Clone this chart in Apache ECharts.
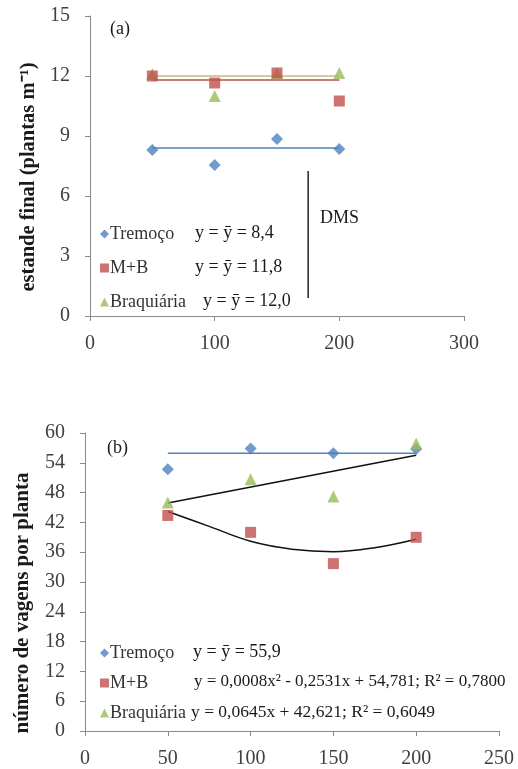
<!DOCTYPE html>
<html>
<head>
<meta charset="utf-8">
<script src="https://cdn.jsdelivr.net/npm/echarts@6/dist/echarts.min.js"></script>
<style>
html,body{margin:0;padding:0;background:#fff;}
#chart{width:518px;height:769px;}
</style>
</head>
<body>
<div id="chart"></div>
<script>
// doses (x) shared by both panels
var doses = [50, 100, 150, 200];

// (a) estande final
var standTremoco = [8.3, 7.55, 8.85, 8.35];
var standMB = [12.0, 11.65, 12.15, 10.75];
var standBraq = [12.1, 11.0, 12.15, 12.15];
var standFitX = [50, 200];
var standFitTremoco = [8.4, 8.4];
var standFitMB = [11.8, 11.8];
var standFitBraq = [12.0, 12.0];
var dmsX = [175, 175];
var dmsY = [0.9, 7.25];

// (b) numero de vagens
var podsTremoco = [52.7, 56.9, 55.9, 56.8];
var podsMB = [43.4, 40.0, 33.7, 39.0];
var podsBraq = [46.0, 50.7, 47.2, 57.9];
var podsFitX = [50, 200];
var podsFitTremoco = [55.9, 55.9];
var podsFitBraq = [45.9, 55.5];
var podsCurveX = [50, 75, 100, 125, 150, 175, 200];
var podsCurveMB = [44.2, 41.2, 38.2, 36.6, 36.1, 36.9, 38.6];

var names = ['Tremoço', 'M+B', 'Braquiária'];
var eqA = ['y = ȳ = 8,4', 'y = ȳ = 11,8', 'y = ȳ = 12,0'];
var eqB = ['y = ȳ = 55,9', 'y = 0,0008x² - 0,2531x + 54,781; R² = 0,7800', 'y = 0,0645x + 42,621; R² = 0,6049'];

var FONT = '"Liberation Serif", "Times New Roman", serif';
var BLUE = '#4F81BD', RED = '#C0504D', GREEN = '#9BBB59';

function zip(xs, ys){
    var out = [];
    for (var i = 0; i < xs.length; i++){
        out.push([xs[i], ys[i]]);
    }
    return out;
}

function axisX(grid, max, interval, margin){
    return {
        type: 'value', gridIndex: grid, min: 0, max: max, interval: interval,
        axisLine: {lineStyle: {color: '#8a8a8a', width: 1}},
        axisTick: {show: true, length: 5, lineStyle: {color: '#8a8a8a'}},
        axisLabel: {color: '#404040', fontFamily: FONT, fontSize: 20, margin: margin},
        splitLine: {show: false}
    };
}
function axisY(grid, max, interval){
    return {
        type: 'value', gridIndex: grid, min: 0, max: max, interval: interval,
        axisLine: {show: true, lineStyle: {color: '#8a8a8a', width: 1}},
        axisTick: {show: true, length: 5, lineStyle: {color: '#8a8a8a'}},
        axisLabel: {color: '#404040', fontFamily: FONT, fontSize: 20, margin: 20},
        splitLine: {show: false}
    };
}
function scatter(name, idx, data, symbol, color, size){
    return {
        name: name, type: 'scatter', xAxisIndex: idx, yAxisIndex: idx,
        symbol: symbol, symbolSize: size, data: data,
        itemStyle: {color: color}, z: 3
    };
}
function fit(idx, data, color, width, smooth){
    return {
        type: 'line', xAxisIndex: idx, yAxisIndex: idx, data: data,
        showSymbol: false, symbol: 'none', silent: true, smooth: smooth || false,
        lineStyle: {color: color, width: width}, z: 2
    };
}
function legend(top, gap){
    return {
        orient: 'vertical', left: 95, top: top, itemGap: gap,
        itemWidth: 9, itemHeight: 9,
        textStyle: {fontFamily: FONT, fontSize: 18, color: '#333', lineHeight: 18, padding: [0, 0, 0, -4]},
        data: [
            {name: 'Tremoço', icon: 'diamond'},
            {name: 'M+B', icon: 'rect'},
            {name: 'Braquiária', icon: 'triangle'}
        ]
    };
}
function txt(x, y, text, size, bold, rot){
    return {
        type: 'text', x: x, y: y, rotation: rot || 0,
        style: {
            text: text, fill: '#1a1a1a',
            font: (bold ? 'bold ' : '') + size + 'px ' + FONT,
            align: rot ? 'center' : 'left', verticalAlign: 'middle'
        }
    };
}

var chart = echarts.init(document.getElementById('chart'));
var option = {
    backgroundColor: '#fff',
    animation: false,
    grid: [
        {left: 90, top: 16, width: 374, height: 300},
        {left: 85, top: 433, width: 414, height: 300}
    ],
    xAxis: [axisX(0, 300, 100, 18), axisX(1, 250, 50, 18)],
    yAxis: [axisY(0, 15, 3), axisY(1, 60, 6)],
    legend: [legend(220, 16), legend(639, 12)],
    series: [
        fit(0, zip(standFitX, standFitTremoco), BLUE, 1.5),
        fit(0, zip(standFitX, standFitMB), '#A8584A', 1.5),
        fit(0, zip(standFitX, standFitBraq), '#D6B27E', 1.5),
        fit(0, zip(dmsX, dmsY), '#222', 1.5),
        scatter('Tremoço', 0, zip(doses, standTremoco), 'diamond', BLUE, 12),
        scatter('Braquiária', 0, zip(doses, standBraq), 'triangle', GREEN, 12),
        scatter('M+B', 0, zip(doses, standMB), 'rect', RED, 11),

        fit(1, zip(podsFitX, podsFitTremoco), BLUE, 1.5),
        fit(1, zip(podsFitX, podsFitBraq), '#111', 1.5),
        fit(1, zip(podsCurveX, podsCurveMB), '#111', 1.5, 0.4),
        scatter('Tremoço', 1, zip(doses, podsTremoco), 'diamond', BLUE, 12),
        scatter('M+B', 1, zip(doses, podsMB), 'rect', RED, 11),
        scatter('Braquiária', 1, zip(doses, podsBraq), 'triangle', GREEN, 12)
    ],
    graphic: [
        txt(110, 29, '(a)', 18),
        txt(107, 448, '(b)', 18),
        txt(320, 218, 'DMS', 18),
        txt(29, 177, 'estande final (plantas m⁻¹)', 20.5, true, Math.PI / 2),
        txt(23, 603, 'número de vagens por planta', 21, true, Math.PI / 2),
        txt(195, 233, eqA[0], 18),
        txt(195, 267, eqA[1], 18),
        txt(203, 301, eqA[2], 18),
        txt(193, 652, eqB[0], 18),
        txt(194, 682, eqB[1], 17),
        txt(191, 712, eqB[2], 17.5)
    ]
};
chart.setOption(option);
</script>
</body>
</html>
